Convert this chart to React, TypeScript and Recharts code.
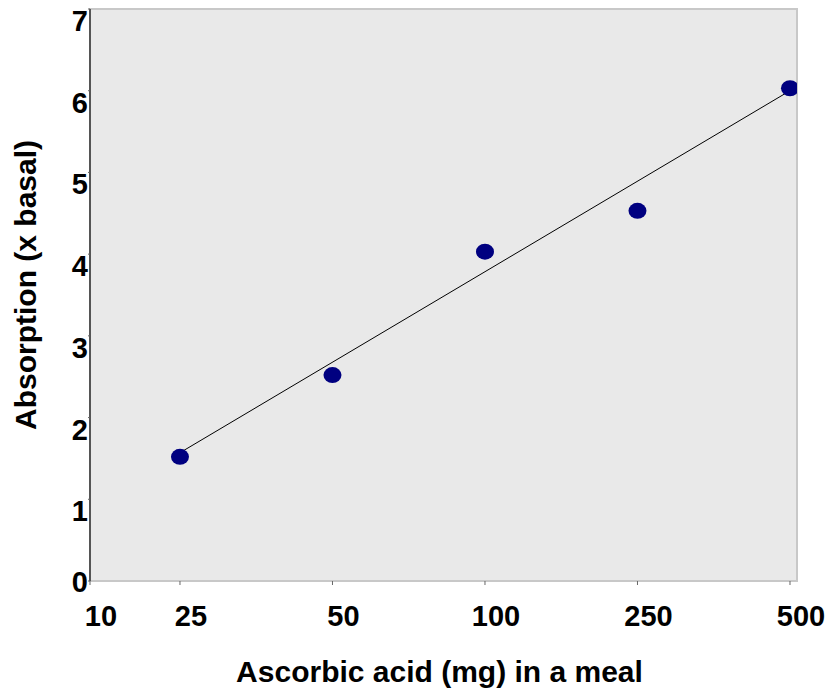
import React from "react";
import {
  ScatterChart,
  Scatter,
  XAxis,
  YAxis,
  ReferenceArea,
  Label,
} from "recharts";

// Ascorbic acid dose per meal (mg), plotted at equal steps
const doses = ["25", "50", "100", "250", "500"];
const absorption = [1.52, 2.52, 4.03, 4.53, 6.03];
// fitted line, read at first and last dose
const fitValues = [1.57, 6.0];
const xTickLabels = ["10", "25", "50", "100", "250", "500"];
const yTicks = [0, 1, 2, 3, 4, 5, 6, 7];

const X_MIN = 0.41;
const X_MAX = 5.046;

const points = doses.map((d, i) => ({ pos: i + 1, dose: d, value: absorption[i] }));
const fitData = [
  { pos: 1, value: fitValues[0] },
  { pos: doses.length, value: fitValues[1] },
];
const xTicks = [X_MIN, ...doses.map((_, i) => i + 1)];

const font = "'Liberation Sans', Arial, sans-serif";

function XTick({ x, y, index }: any) {
  return (
    <text
      x={x + 11}
      y={y + 39}
      textAnchor="middle"
      fontFamily={font}
      fontWeight="bold"
      fontSize={29}
      fill="#000"
    >
      {xTickLabels[index]}
    </text>
  );
}

function YTick({ x, y, payload }: any) {
  return (
    <text
      x={x}
      y={y + (payload.value === 0 ? 1 : 12)}
      textAnchor="end"
      dominantBaseline="central"
      fontFamily={font}
      fontWeight="bold"
      fontSize={29}
      fill="#000"
    >
      {payload.value}
    </text>
  );
}

function Dot({ cx, cy }: any) {
  return <ellipse cx={cx} cy={cy} rx={9} ry={8} fill="#000080" />;
}

export default function App() {
  return (
    <div style={{ position: "absolute", left: 0, top: 0 }}>
      <ScatterChart
        width={833}
        height={691}
        margin={{ top: 9, right: 36, left: 0, bottom: 0 }}
      >
        <ReferenceArea
          x1={X_MIN}
          x2={X_MAX}
          y1={0}
          y2={7}
          fill="#e9e9e9"
          fillOpacity={1}
          stroke="#c8c8c8"
          strokeWidth={2}
        />
        <XAxis
          type="number"
          dataKey="pos"
          domain={[X_MIN, X_MAX]}
          ticks={xTicks}
          allowDataOverflow
          height={110}
          axisLine={{ stroke: "#c8c8c8", strokeWidth: 2 }}
          tickLine={{ stroke: "#666" }}
          tickSize={4}
          tick={<XTick />}
          interval={0}
        >
          <Label
            content={({ viewBox }: any) => (
              <text
                x={viewBox.x + viewBox.width / 2 - 4}
                y={viewBox.y + 101}
                textAnchor="middle"
                fontFamily={font}
                fontWeight="bold"
                fontSize={30}
                fill="#000"
              >
                Ascorbic acid (mg) in a meal
              </text>
            )}
          />
        </XAxis>
        <YAxis
          type="number"
          dataKey="value"
          domain={[0, 7]}
          ticks={yTicks}
          interval={0}
          width={90}
          axisLine={{ stroke: "#555", strokeWidth: 2 }}
          tickLine={{ stroke: "#666" }}
          tickSize={2}
          tickMargin={0}
          tick={<YTick />}
        >
          <Label
            content={({ viewBox }: any) => {
              const cx = viewBox.x + 25;
              const cy = viewBox.y + viewBox.height / 2 - 10;
              return (
                <text
                  x={cx}
                  y={cy}
                  transform={`rotate(-90 ${cx} ${cy})`}
                  textAnchor="middle"
                  dominantBaseline="central"
                  fontFamily={font}
                  fontWeight="bold"
                  fontSize={30}
                  fill="#000"
                >
                  Absorption (x basal)
                </text>
              );
            }}
          />
        </YAxis>
        <Scatter
          data={fitData}
          line={{ stroke: "#000", strokeWidth: 1 }}
          shape={() => <g />}
          isAnimationActive={false}
        />
        <Scatter data={points} shape={<Dot />} isAnimationActive={false} />
      </ScatterChart>
    </div>
  );
}
